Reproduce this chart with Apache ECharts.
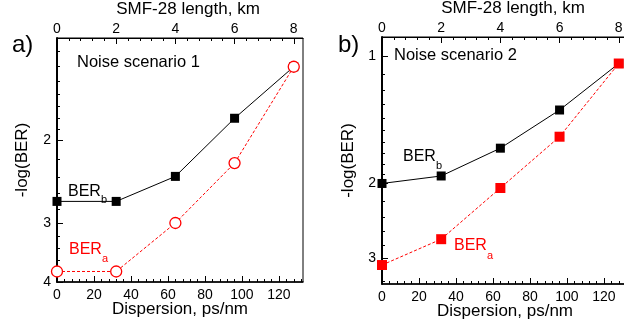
<!DOCTYPE html>
<html>
<head>
<meta charset="utf-8">
<script src="https://cdn.jsdelivr.net/npm/echarts@6/dist/echarts.min.js"></script>
<style>
  html, body { margin: 0; padding: 0; background: #fff; }
  #chart { width: 624px; height: 336px; }
</style>
</head>
<body>
<div id="chart"></div>
<script>
// data
const dispersion = [0, 32, 64, 96, 128];          // ps/nm
const berB1 = [2.70, 2.70, 2.39, 1.80, 1.40];     // panel a, black squares
const berA1 = [3.80, 3.80, 3.00, 2.24, 1.40];     // panel a, red circles
const berB2 = [2.00, 1.92, 1.65, 1.34, 1.04];     // panel b, black squares
const berA2 = [3.12, 2.71, 2.05, 1.55, 1.04];     // panel b, red squares

const dispTicks = [0, 20, 40, 60, 80, 100, 120];
const kmTicks = [0, 2, 4, 6, 8];
const yTicks1 = [2, 3, 4];
const yTicks2 = [1, 2, 3];
const yMinor1 = [1.3, 1.4, 1.5, 1.6, 1.7, 1.8, 1.9, 2.2, 2.4, 2.6, 2.8, 3.2, 3.4, 3.6, 3.8];
const yMinor2 = [1.1, 1.2, 1.3, 1.4, 1.5, 1.6, 1.7, 1.8, 1.9, 2.2, 2.4, 2.6, 2.8, 3.2, 3.4];

const FONT = "'Liberation Sans', Arial, sans-serif";
const xMax = 133;
const psPerKm = 16;
const lg = v => Math.log10(v);

function steps(max, step, skip) {
    const out = [];
    for (let v = 0; v <= max + 1e-9; v += step) {
        const r = Math.round(v * 100) / 100;
        if (Math.abs(r / skip - Math.round(r / skip)) > 1e-6) out.push(r);
    }
    return out;
}
const dispMinor = steps(xMax, 4, 20);
const kmMinor = steps(xMax / psPerKm, 0.4, 2);

const chartDom = document.getElementById('chart');
const myChart = echarts.init(chartDom, null, { renderer: 'canvas' });

const black = '#000';
const red = '#ff0000';

function xAxes(g) {
    const base = { type: 'value', gridIndex: g, min: 0, splitLine: { show: false }, nameMoveOverlap: false };
    return [
        Object.assign({}, base, {
            position: 'bottom', max: xMax,
            axisLine: { show: true, onZero: false, lineStyle: { color: black, width: 1.5 } },
            axisTick: { inside: true, length: 6, customValues: dispTicks, lineStyle: { color: black } },
            axisLabel: { customValues: dispTicks, color: black, fontSize: 14, fontFamily: FONT, margin: 6 },
            name: 'Dispersion, ps/nm', nameLocation: 'middle', nameGap: 19,
            nameTextStyle: { color: black, fontSize: 17, fontFamily: FONT }
        }),
        Object.assign({}, base, {
            position: 'bottom', max: xMax,
            axisLine: { show: false, onZero: false },
            axisTick: { inside: true, length: 3, customValues: dispMinor, lineStyle: { color: black } },
            axisLabel: { show: false }
        }),
        Object.assign({}, base, {
            position: 'top', max: xMax / psPerKm,
            axisLine: { show: true, onZero: false, lineStyle: { color: black, width: 1 } },
            axisTick: { inside: true, length: 6, customValues: kmTicks, lineStyle: { color: black } },
            axisLabel: { customValues: kmTicks, color: black, fontSize: 14, fontFamily: FONT, margin: 2 },
            name: 'SMF-28 length, km', nameLocation: 'middle', nameGap: 20,
            nameTextStyle: { color: black, fontSize: 17, fontFamily: FONT, padding: [0, 0, 0, 16] }
        }),
        Object.assign({}, base, {
            position: 'top', max: xMax / psPerKm,
            axisLine: { show: false, onZero: false },
            axisTick: { inside: true, length: 3, customValues: kmMinor, lineStyle: { color: black } },
            axisLabel: { show: false }
        })
    ];
}

function yAxes(g, lo, hi, major, minor, gap) {
    const base = {
        type: 'value', gridIndex: g, position: 'left', inverse: true,
        min: lg(lo), max: lg(hi), splitLine: { show: false }, nameMoveOverlap: false
    };
    return [
        Object.assign({}, base, {
            axisLine: { show: true, onZero: false, lineStyle: { color: black, width: 2 } },
            axisTick: { inside: true, length: 6, customValues: major.map(lg), lineStyle: { color: black } },
            axisLabel: {
                customValues: major.map(lg), color: black, fontSize: 14, fontFamily: FONT, margin: 6,
                formatter: v => String(Math.round(Math.pow(10, v)))
            },
            name: '-log(BER)', nameLocation: 'middle', nameGap: gap,
            nameTextStyle: { color: black, fontSize: 17, fontFamily: FONT }
        }),
        Object.assign({}, base, {
            axisLine: { show: false, onZero: false },
            axisTick: { inside: true, length: 3, customValues: minor.map(lg), lineStyle: { color: black } },
            axisLabel: { show: false }
        })
    ];
}

function pts(ys) {
    return dispersion.map((x, i) => [x, lg(ys[i])]);
}

function blackSeries(xi, yi, ys) {
    return {
        type: 'line', xAxisIndex: xi, yAxisIndex: yi, data: pts(ys),
        symbol: 'rect', symbolSize: 9,
        itemStyle: { color: black },
        lineStyle: { color: black, width: 1 },
        z: 3
    };
}

function redSeries(xi, yi, ys, hollow) {
    return {
        type: 'line', xAxisIndex: xi, yAxisIndex: yi, data: pts(ys),
        symbol: hollow ? 'circle' : 'rect', symbolSize: hollow ? 11 : 10,
        itemStyle: hollow ? { color: '#fff', borderColor: red, borderWidth: 1.3 } : { color: red },
        lineStyle: { color: red, width: 1, type: [3, 2] },
        z: 4
    };
}

function txt(x, y, text, size, color) {
    return {
        type: 'text', x: x, y: y, silent: true,
        style: { text: text, fill: color || black, fontSize: size, fontFamily: FONT, textVerticalAlign: 'middle' }
    };
}

const gridBase = {
    show: true, borderColor: black, borderWidth: 1, backgroundColor: 'transparent',
    containLabel: false, outerBoundsMode: 'none'
};

const option = {
    backgroundColor: '#fff',
    animation: false,
    grid: [
        Object.assign({}, gridBase, { left: 57, right: 321, top: 38, bottom: 54 }),
        Object.assign({}, gridBase, { left: 382, right: -4, top: 37, bottom: 52 })
    ],
    xAxis: xAxes(0).concat(xAxes(1)),
    yAxis: yAxes(0, 1.217, 4.0, yTicks1, yMinor1, 26).concat(yAxes(1, 0.90, 3.46, yTicks2, yMinor2, 25)),
    series: [
        blackSeries(0, 0, berB1),
        redSeries(0, 0, berA1, true),
        blackSeries(4, 2, berB2),
        redSeries(4, 2, berA2, false)
    ],
    graphic: [
        txt(12, 45, 'a)', 24),
        txt(338, 45, 'b)', 24),
        txt(77, 62, 'Noise scenario 1', 16.5),
        txt(394, 55, 'Noise scenario 2', 16.5),
        txt(68, 192, 'BER', 16), txt(101, 200, 'b', 11),
        txt(69, 250, 'BER', 16, red), txt(102, 259, 'a', 11, red),
        txt(403, 157, 'BER', 16), txt(436, 166, 'b', 11),
        txt(454, 246, 'BER', 16, red), txt(487, 256, 'a', 11, red)
    ]
};

myChart.setOption(option);
new ResizeObserver(() => myChart.resize()).observe(chartDom);
</script>
</body>
</html>
